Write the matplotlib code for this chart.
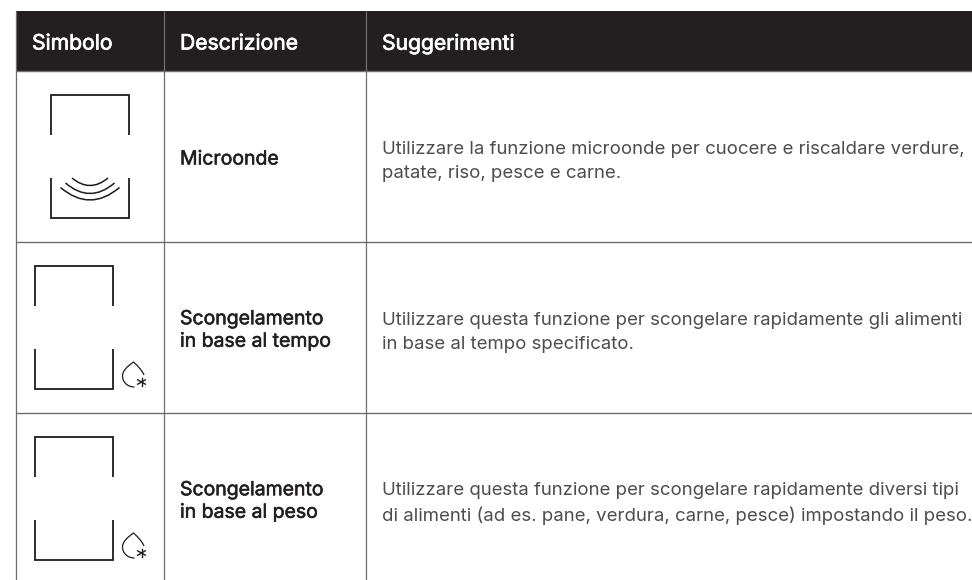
import numpy as np
import matplotlib
matplotlib.use("Agg")
import matplotlib.pyplot as plt
import matplotlib.patheffects as pe
from matplotlib.patches import Rectangle, PathPatch
from matplotlib.path import Path

W, H = 972, 580
DARK = "#231f20"
GRID = "#6e6e6e"
TEXT_FONT = "Inter"

headers = ["Simbolo", "Descrizione", "Suggerimenti"]
names = ["Microonde", "Scongelamento\nin base al tempo", "Scongelamento\nin base al peso"]
tips = [
    "Utilizzare la funzione microonde per cuocere e riscaldare verdure,\npatate, riso, pesce e carne.",
    "Utilizzare questa funzione per scongelare rapidamente gli alimenti\nin base al tempo specificato.",
    "Utilizzare questa funzione per scongelare rapidamente diversi tipi\ndi alimenti (ad es. pane, verdura, carne, pesce) impostando il peso.",
]
col_x = [16, 164, 366]
text_x = [32, 180, 382]
row_y = [71, 242, 413]
symbol_x = [51, 35, 35]
symbol_top = [95, 266, 437]
has_waves = [True, False, False]
has_drop = [False, True, True]

fig = plt.figure(figsize=(W / 100, H / 100), dpi=100, facecolor="white")
ax = fig.add_axes([0, 0, 1, 1])
ax.set_xlim(0, W)
ax.set_ylim(H, 0)
ax.axis("off")

# header
ax.add_patch(Rectangle((16, 11), W - 16, 60, fc=DARK, ec="none", zorder=1))
for x, label in zip(text_x, headers):
    ax.text(x, 43.5, label, color="white", family=TEXT_FONT, fontsize=15.2,
            va="center", ha="left", zorder=3,
            path_effects=[pe.withStroke(linewidth=0.5, foreground="white")])

# grid
for x in col_x:
    ax.plot([x, x], [11, H], color=GRID, lw=0.9, zorder=2, solid_capstyle="butt")
for y in row_y:
    ax.plot([16, W], [y, y], color=GRID, lw=1.0, zorder=2, solid_capstyle="butt")


def bracket(x, y_top):
    sw, sh, gap = 78, 40, 43
    kw = dict(color="#1c1c1c", lw=1.3, solid_joinstyle="miter", solid_capstyle="butt", zorder=3)
    ax.plot([x, x, x + sw, x + sw], [y_top + sh, y_top, y_top, y_top + sh], **kw)
    yb = y_top + sh + gap
    ax.plot([x, x, x + sw, x + sw], [yb, yb + sh, yb + sh, yb], **kw)


def arc(x0, x1, y_end, y_low):
    ctrl = 2 * y_low - y_end
    p = Path([(x0, y_end), ((x0 + x1) / 2, ctrl), (x1, y_end)],
             [Path.MOVETO, Path.CURVE3, Path.CURVE3])
    ax.add_patch(PathPatch(p, fc="none", ec="#1c1c1c", lw=1.1, zorder=3))


def drop(x, y):
    p = Path(
        [(x + 21.5, y + 8), (x + 19, y + 2), (x + 11, y - 5),
         (x + 4, y + 0), (x, y + 4), (x, y + 9),
         (x, y + 15), (x + 5, y + 20), (x + 12, y + 20)],
        [Path.MOVETO, Path.CURVE3, Path.CURVE3,
         Path.CURVE4, Path.CURVE4, Path.CURVE4,
         Path.CURVE4, Path.CURVE4, Path.CURVE4],
    )
    ax.add_patch(PathPatch(p, fc="none", ec="#1c1c1c", lw=0.9, zorder=3))
    cx, cy = x + 19, y + 15
    for a in (90, 30, 150):
        dx, dy = 4.4 * np.cos(np.radians(a)), 4.4 * np.sin(np.radians(a))
        ax.plot([cx - dx, cx + dx], [cy - dy, cy + dy], color="#1c1c1c", lw=1.0, zorder=3)


for i, top in enumerate(symbol_top):
    mid = (row_y[i] + (row_y[i + 1] if i + 1 < len(row_y) else row_y[i] + 171)) / 2
    bracket(symbol_x[i], top)
    if has_waves[i]:
        arc(60.5, 119.5, 187.5, 200)
        arc(65.5, 114.5, 183, 193.5)
        arc(72, 108, 178, 185.5)
    if has_drop[i]:
        drop(122.5, top + 101)
    ax.text(text_x[1], mid + 3, names[i], color=DARK, family=TEXT_FONT, fontsize=14.0,
            va="center", ha="left", linespacing=1.32, zorder=3,
            path_effects=[pe.withStroke(linewidth=0.4, foreground=DARK)])
    ax.text(text_x[2], mid + 5, tips[i], color="#4c4d50", family=TEXT_FONT,
            weight="normal", fontsize=13.4, va="center", ha="left", linespacing=1.5, zorder=3)

fig.savefig("out.png", dpi=100, facecolor="white")
